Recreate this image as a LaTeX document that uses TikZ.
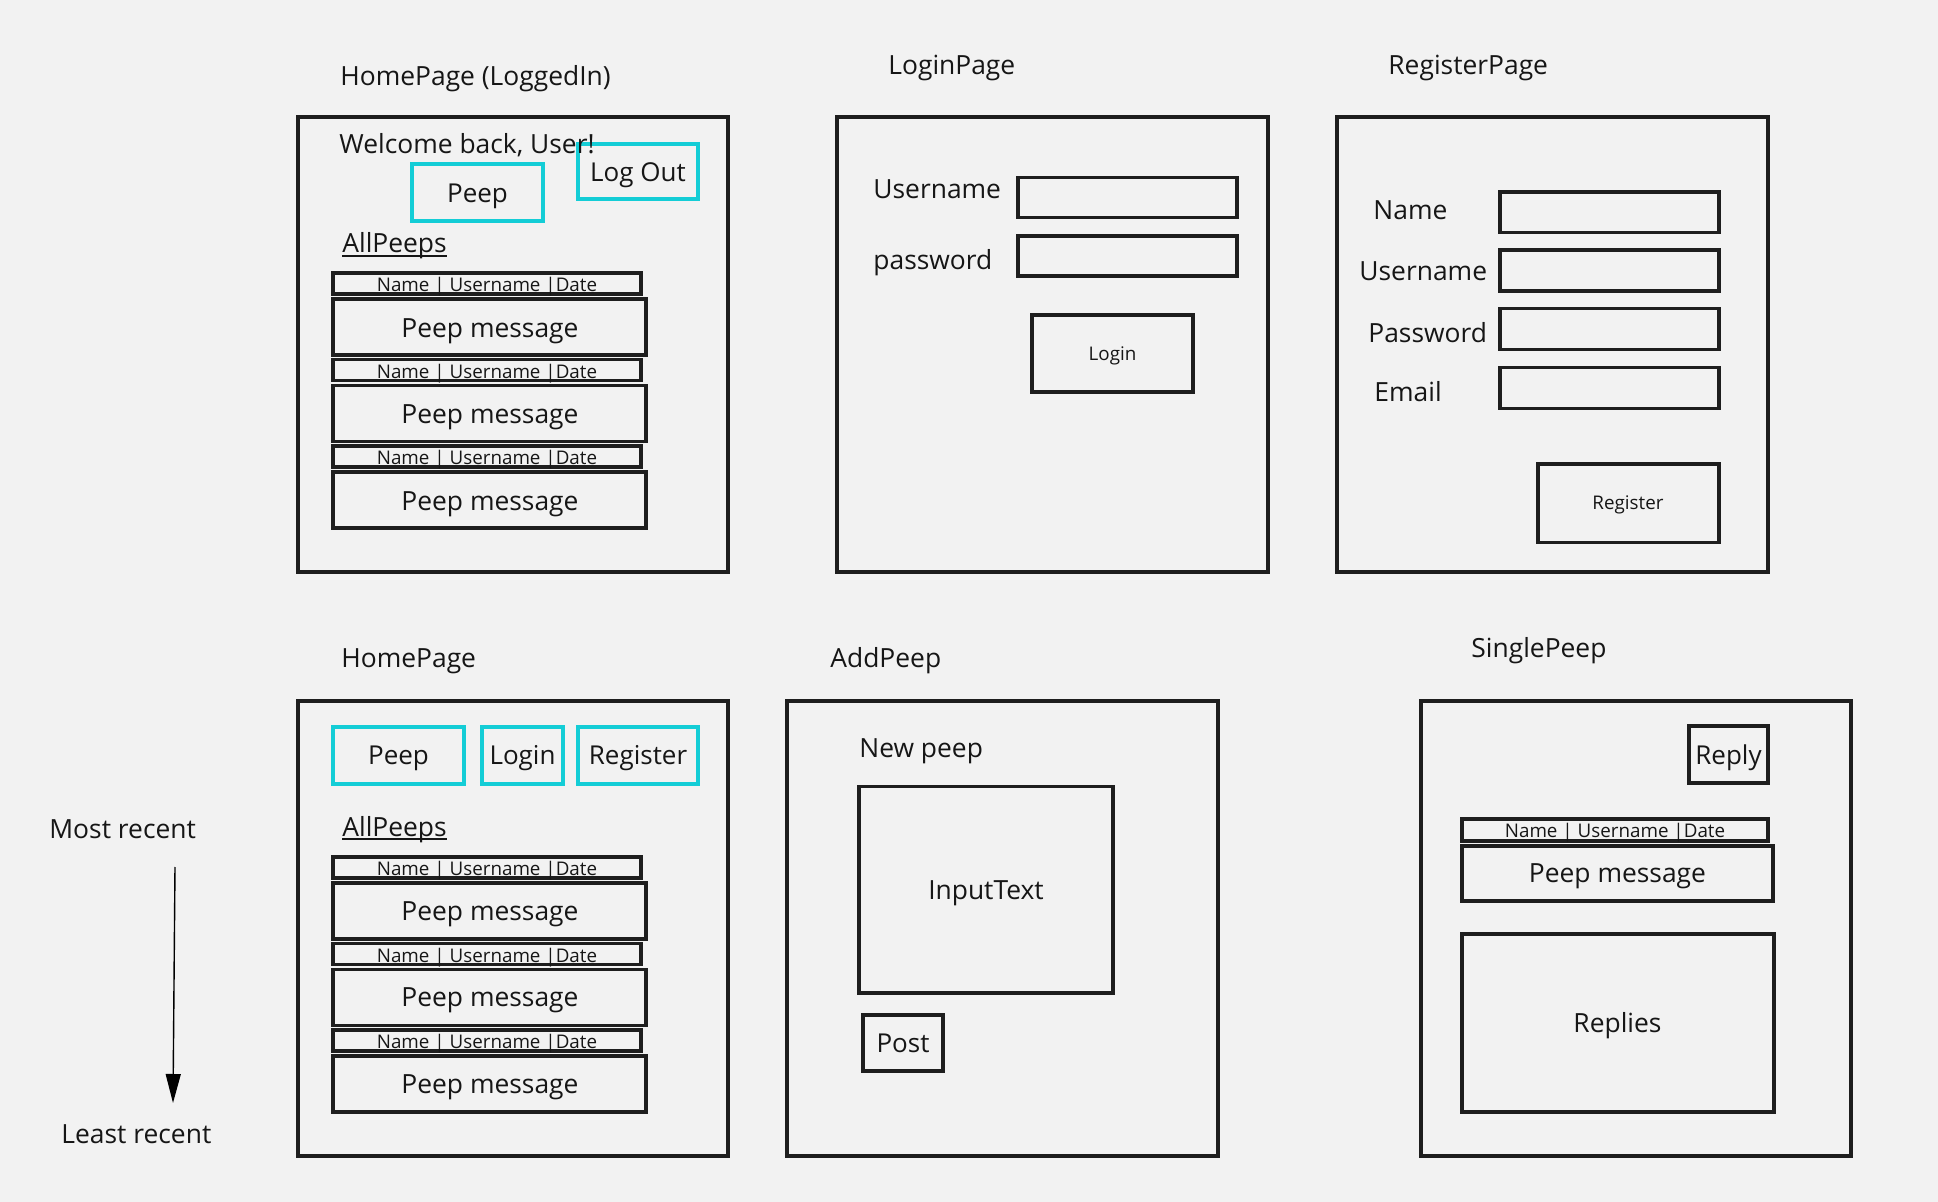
\documentclass[tikz,border=0pt]{standalone}
\usepackage{fontspec}
\setmainfont{Open Sans}
\usetikzlibrary{fit,arrows.meta}
\definecolor{bgc}{HTML}{F2F2F2}
\definecolor{linec}{HTML}{1E1E1E}
\definecolor{textc}{HTML}{161616}
\definecolor{cyanc}{HTML}{14CDD6}
\begin{document}
\begin{tikzpicture}[x=0.5pt,y=-0.5pt,
  frame/.style={draw=linec, line width=1.65pt, inner sep=0pt},
  ibox/.style={draw=linec, line width=1.6pt, inner sep=0pt},
  cbtn/.style={draw=cyanc, line width=1.75pt, inner sep=0pt},
  big/.style={font=\fontsize{13.2}{16}\selectfont, text=textc, inner sep=0pt, yshift=-1pt},
  btn/.style={font=\fontsize{13}{16}\selectfont, text=textc, inner sep=0pt, yshift=-1pt},
  small/.style={font=\fontsize{9.4}{11}\selectfont, text=textc, inner sep=0pt, yshift=-0.6pt},
  uline/.style={draw=textc, line width=0.9pt},
  arr/.style={draw=black, line width=0.7pt, -{Triangle[length=14.5pt,width=7.5pt]}}]
\fill[bgc] (0,0) rectangle (1938,1202);
\useasboundingbox (0,0) rectangle (1938,1202);

% ---------------- HomePage (LoggedIn) ----------------
\node[big, anchor=base west] (t1) at (340,84) {HomePage (LoggedIn)};
\node[frame, fit={(298,117) (728,572)}] (p1) {};
\node[cbtn, fit={(412,164) (543,221)}] (p1peep) {};
\node[btn, anchor=base] (p1peepT) at (477.5,200.5) {Peep};
\node[cbtn, fit={(578,144) (698,199)}] (p1out) {};
\node[btn, anchor=base] (p1outT) at (638,180) {Log Out};
\node[big, anchor=base west] (p1wel) at (339,152) {Welcome back, User!};
\node[big, anchor=base west] (p1all) at (342,250.7) {AllPeeps};
\draw[uline] ([yshift=-1.6pt]p1all.base west) -- ([yshift=-1.6pt]p1all.base east);
\foreach \i/\dy in {1/0,2/86.5,3/173}{
  \node[ibox, fit={(333,273+\dy) (641,294+\dy)}] (p1h\i) {};
  \node[small, anchor=base] (p1hT\i) at (487,290.7+\dy) {Name | Username |Date};
  \node[ibox, fit={(333,299+\dy) (646,355+\dy)}] (p1m\i) {};
  \node[big, anchor=base] (p1mT\i) at (490,335.5+\dy) {Peep message};
}

% ---------------- LoginPage ----------------
\node[big, anchor=base west] (t2) at (888,73) {LoginPage};
\node[frame, fit={(837,117) (1268,572)}] (p2) {};
\node[big, anchor=base west] (p2u) at (873,197) {Username};
\node[ibox, fit={(1018,177.5) (1237,217.5)}] (p2uf) {};
\node[big, anchor=base west] (p2p) at (873,267.5) {password};
\node[ibox, fit={(1018,236) (1237,276)}] (p2pf) {};
\node[ibox, fit={(1032,315) (1193,392)}] (p2b) {};
\node[small, anchor=base] (p2bT) at (1112.5,359) {Login};

% ---------------- RegisterPage ----------------
\node[big, anchor=base west] (t3) at (1388,73) {RegisterPage};
\node[frame, fit={(1337,117) (1768,572)}] (p3) {};
\node[big, anchor=base west] (p3n) at (1373,217.5) {Name};
\node[big, anchor=base west] (p3u) at (1359,279) {Username};
\node[big, anchor=base west] (p3p) at (1368,340.7) {Password};
\node[big, anchor=base west] (p3e) at (1374,400) {Email};
\node[ibox, fit={(1500,192) (1719,232.5)}] (p3nf) {};
\node[ibox, fit={(1500,250) (1719,291)}] (p3uf) {};
\node[ibox, fit={(1500,308.6) (1719,349.6)}] (p3pf) {};
\node[ibox, fit={(1500,367.5) (1719,408.6)}] (p3ef) {};
\node[ibox, fit={(1538,464) (1719,542.5)}] (p3b) {};
\node[small, anchor=base] (p3bT) at (1628,508) {Register};

% ---------------- HomePage ----------------
\node[big, anchor=base west] (t4) at (341,666) {HomePage};
\node[frame, fit={(298,701) (728,1156)}] (p4) {};
\node[cbtn, fit={(333,727) (464,784)}] (p4peep) {};
\node[btn, anchor=base] (p4peepT) at (398.5,763) {Peep};
\node[cbtn, fit={(482,727) (563,784)}] (p4log) {};
\node[btn, anchor=base] (p4logT) at (522.5,763) {Login};
\node[cbtn, fit={(578,727) (698,784)}] (p4reg) {};
\node[btn, anchor=base] (p4regT) at (638,763) {Register};
\node[big, anchor=base west] (p4all) at (342,834) {AllPeeps};
\draw[uline] ([yshift=-1.6pt]p4all.base west) -- ([yshift=-1.6pt]p4all.base east);
\foreach \i/\dy in {1/584,2/670.5,3/757}{
  \node[ibox, fit={(333,273+\dy) (641,294+\dy)}] (p4h\i) {};
  \node[small, anchor=base] (p4hT\i) at (487,290.7+\dy) {Name | Username |Date};
  \node[ibox, fit={(333,299+\dy) (646,355+\dy)}] (p4m\i) {};
  \node[big, anchor=base] (p4mT\i) at (490,334+\dy) {Peep message};
}

% ---------------- AddPeep ----------------
\node[big, anchor=base west] (t5) at (830,666) {AddPeep};
\node[frame, fit={(787,701) (1218,1156)}] (p5) {};
\node[big, anchor=base west] (p5new) at (859,756) {New peep};
\node[ibox, fit={(859,786.5) (1113,993)}] (p5in) {};
\node[big, anchor=base] (p5inT) at (986,897) {InputText};
\node[ibox, fit={(863,1015) (943,1071)}] (p5post) {};
\node[btn, anchor=base] (p5postT) at (903,1050) {Post};

% ---------------- SinglePeep ----------------
\node[big, anchor=base west] (t6) at (1471,656) {SinglePeep};
\node[frame, fit={(1421,701) (1851,1156)}] (p6) {};
\node[ibox, fit={(1689,726) (1768,783)}] (p6rep) {};
\node[btn, anchor=base] (p6repT) at (1728.5,762) {Reply};
\node[ibox, fit={(1462,819) (1768,841)}] (p6h) {};
\node[small, anchor=base] (p6hT) at (1615,836) {Name | Username |Date};
\node[ibox, fit={(1462,846) (1773,901)}] (p6m) {};
\node[big, anchor=base] (p6mT) at (1617.5,880.7) {Peep message};
\node[ibox, fit={(1462,934) (1774,1112)}] (p6r) {};
\node[big, anchor=base] (p6rT) at (1617.5,1030.7) {Replies};

% ---------------- Order arrow ----------------
\node[big, anchor=base west] (most) at (49,836) {Most recent};
\node[big, anchor=base west] (least) at (61,1141.7) {Least recent};
\coordinate (a0) at (175,867);
\coordinate (a1) at (173,1103);
\draw[arr] (a0) -- (a1);
\end{tikzpicture}
\end{document}
